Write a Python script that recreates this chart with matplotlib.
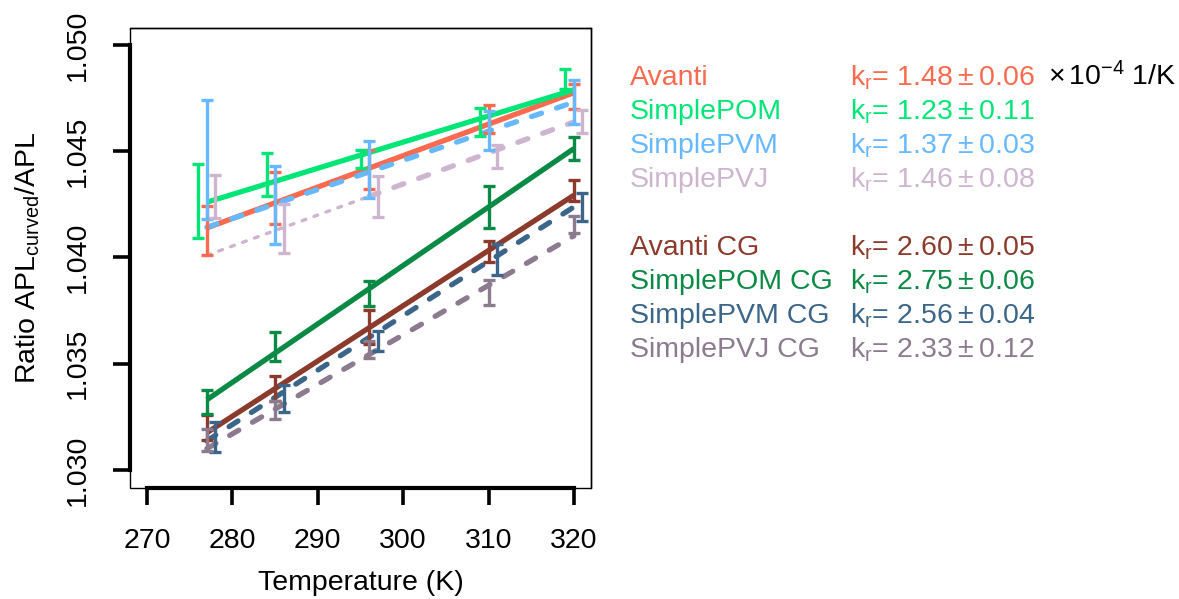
import numpy as np
import matplotlib
matplotlib.use('Agg')
import matplotlib.pyplot as plt
from matplotlib.patches import Rectangle

matplotlib.rcParams['font.family'] = ['Liberation Sans', 'DejaVu Sans']
matplotlib.rcParams['mathtext.fontset'] = 'custom'
matplotlib.rcParams['mathtext.rm'] = 'Liberation Sans'
matplotlib.rcParams['mathtext.it'] = 'Liberation Sans:italic'

# temperatures of the simulations (K)
temps = [277, 285, 296, 310, 320]

names = ['Avanti', 'SimplePOM', 'SimplePVM', 'SimplePVJ',
         'Avanti CG', 'SimplePOM CG', 'SimplePVM CG', 'SimplePVJ CG']

# mean ratio and error at each temperature
avanti_mean = [1.04127, 1.04278, 1.04414, 1.04652, 1.04758]
avanti_err = [0.00115, 0.00122, 0.00093, 0.00067, 0.00059]
pom_mean = [1.04266, 1.04390, 1.04462, 1.04637, 1.04840]
pom_err = [0.00176, 0.00100, 0.00042, 0.00066, 0.00045]
pvm_mean = [1.04460, 1.04246, 1.04414, 1.04598, 1.04731]
pvm_err = [0.00280, 0.00183, 0.00132, 0.00091, 0.00102]
pvj_mean = [1.04286, 1.04137, 1.04287, 1.04475, 1.04640]
pvj_err = [0.00101, 0.00117, 0.00095, 0.00056, 0.00052]

avanti_cg_mean = [1.03200, 1.03383, 1.03674, 1.04028, 1.04316]
avanti_cg_err = [0.00060, 0.00059, 0.00080, 0.00050, 0.00050]
pom_cg_mean = [1.03320, 1.03582, 1.03830, 1.04238, 1.04512]
pom_cg_err = [0.00055, 0.00067, 0.00057, 0.00100, 0.00055]
pvm_cg_mean = [1.03155, 1.03335, 1.03608, 1.03990, 1.04237]
pvm_cg_err = [0.00070, 0.00063, 0.00047, 0.00072, 0.00066]
pvj_cg_mean = [1.03141, 1.03283, 1.03566, 1.03835, 1.04156]
pvj_cg_err = [0.00052, 0.00042, 0.00040, 0.00058, 0.00040]

# linear fits: value at first temperature, slope k_r (x 1e-4 1/K) and its error
fit_start = [1.04139, 1.04260, 1.04142, 1.04010, 1.03175, 1.03330, 1.03137, 1.03100]
kr = [1.48, 1.23, 1.37, 1.46, 2.60, 2.75, 2.56, 2.33]
kr_err = [0.06, 0.11, 0.03, 0.08, 0.05, 0.06, 0.04, 0.12]

means = [avanti_mean, pom_mean, pvm_mean, pvj_mean,
         avanti_cg_mean, pom_cg_mean, pvm_cg_mean, pvj_cg_mean]
errs = [avanti_err, pom_err, pvm_err, pvj_err,
        avanti_cg_err, pom_cg_err, pvm_cg_err, pvj_cg_err]

colors = ['#F96A4E', '#00E676', '#66B8FF', '#CDB5CF',
          '#8B3A2B', '#0A8A45', '#3B6589', '#8C7A8E']
shift = [0, -1, 0, 1, 0, 0, 1, 0]  # small x offsets so bars don't overlap
dashed = [False, False, True, True, False, False, True, True]

fig = plt.figure(figsize=(11.79, 5.99), dpi=100)
ax = fig.add_axes([130/1179, 1 - 488/599, 461/1179, 460/599])

t = np.array(temps, dtype=float)
for i in range(len(names)):
	x0, x1 = temps[0], temps[-1]
	slope = kr[i] * 1e-4
	if names[i] == 'SimplePVJ':
		# dotted at low T, dashed above
		xa = np.array([x0, 296])
		ax.plot(xa, fit_start[i] + slope * (xa - x0), color=colors[i], lw=2.4,
			linestyle=(0, (1.2, 2.6)), dash_capstyle='round', zorder=2)
		xb = np.array([296, x1])
		ax.plot(xb, fit_start[i] + slope * (xb - x0), color=colors[i], lw=3.8,
			linestyle=(0, (2, 3)), dash_capstyle='round', zorder=2)
	else:
		xx = np.array([x0, x1])
		ls = (0, (2, 3)) if dashed[i] else '-'
		ax.plot(xx, fit_start[i] + slope * (xx - x0), color=colors[i], lw=3.8,
			linestyle=ls, dash_capstyle='round', solid_capstyle='butt', zorder=2)
	ax.errorbar(t + shift[i], means[i], yerr=errs[i], fmt='none', ecolor=colors[i],
		elinewidth=2.4, capsize=4.3, capthick=2.4, zorder=3)

ax.set_xlim(268, 322)
ax.set_ylim(1.02915, 1.0508)
ax.set_xticks([270, 280, 290, 300, 310, 320])
ax.set_yticks([1.030, 1.035, 1.040, 1.045, 1.050])
ax.set_yticklabels(['1.030', '1.035', '1.040', '1.045', '1.050'], rotation=90, va='center')
ax.tick_params(axis='both', labelsize=20.5, width=2.6, length=12.5, direction='out')
ax.tick_params(axis='x', pad=16)
ax.tick_params(axis='y', pad=16)

for s in ['top', 'right', 'left', 'bottom']:
	ax.spines[s].set_linewidth(1.0)
ax.spines['left'].set_bounds(1.030, 1.050)
ax.spines['bottom'].set_bounds(270, 320)
ax.spines['left'].set_linewidth(3)
ax.spines['bottom'].set_linewidth(3)
ax.add_patch(Rectangle((0, 0), 1, 1, transform=ax.transAxes, fill=False,
	lw=1.0, ec='black', clip_on=False, zorder=5))

ax.set_xlabel('Temperature (K)', fontsize=20.5, labelpad=12)
ax.set_ylabel(r'Ratio APL$_{\mathrm{curved}}$/APL', fontsize=20.5, labelpad=16)

# legend-like text on the right
rows = [85, 119, 153, 187, 255, 289, 323, 357]
for i in range(len(names)):
	y = 1 - rows[i] / 599
	fig.text(630/1179, y, names[i], color=colors[i], fontsize=20.5, va='baseline')
	fig.text(850/1179, y, 'k$_{\\mathrm{r}}$= %.2f\u2009±\u2009%.2f' % (kr[i], kr_err[i]),
		color=colors[i], fontsize=20.5, va='baseline')
fig.text(1048/1179, 1 - 85/599, r'$\times\,$10$^{-4}$ 1/K', color='black', fontsize=20.5, va='baseline')

fig.savefig('out.png', dpi=100)
